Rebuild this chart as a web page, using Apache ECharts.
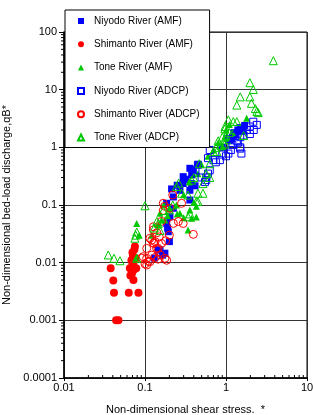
<!DOCTYPE html>
<html lang="en">
  <head>
    <meta charset="UTF-8" />
    <title>Bed-load discharge vs shear stress</title>
    <script src="https://cdn.jsdelivr.net/npm/echarts@6.0.0/dist/echarts.min.js"></script>
    <style>
      html, body { margin: 0; padding: 0; background: #fff; }
    </style>
  </head>

  <body>
    <div id="main" style="width: 313px; height: 415px"></div>

    <script type="text/javascript">
      // tick labels
      const xTickLabels = ["0.01", "0.1", "1", "10"];
      const yTickLabels = ["0.0001", "0.001", "0.01", "0.1", "1", "10", "100"];
      const minorSteps = [2, 3, 4, 5, 6, 7, 8, 9];

      // [shear stress, bed-load discharge]
      const niyodoAmf = [
        [0.13, 0.012], [0.146, 0.0166], [0.153, 0.0166], [0.165, 0.0135], [0.176, 0.0146],
        [0.185, 0.048], [0.19, 0.04], [0.194, 0.0344], [0.2, 0.0232], [0.203, 0.0625],
        [0.185, 0.107], [0.224, 0.0877], [0.213, 0.19], [0.224, 0.138], [0.27, 0.18],
        [0.296, 0.236], [0.296, 0.31], [0.358, 0.433], [0.395, 0.4], [0.358, 0.18],
        [0.358, 0.122], [0.377, 0.333], [0.415, 0.215], [0.377, 0.235], [0.32, 0.28],
        [0.25, 0.22], [0.45, 0.5], [0.9, 1.0], [1.1, 1.3], [1.2, 1.5], [1.3, 1.7],
        [1.4, 2.0], [1.6, 1.9], [1.5, 2.2], [1.7, 2.4], [1.25, 1.8]
      ];
      const shimantoAmf = [
        [0.0377, 0.008], [0.0406, 0.0049], [0.0414, 0.003], [0.044, 0.001], [0.047, 0.001],
        [0.063, 0.003], [0.083, 0.003], [0.065, 0.008], [0.066, 0.006], [0.068, 0.011],
        [0.069, 0.0065], [0.07, 0.0095], [0.071, 0.013], [0.072, 0.005], [0.073, 0.0075],
        [0.074, 0.017], [0.075, 0.019], [0.076, 0.012], [0.078, 0.008], [0.07, 0.015],
        [0.072, 0.01]
      ];
      const toneAmf = [
        [0.078, 0.012], [0.079, 0.048], [0.085, 0.03], [0.12, 0.03], [0.146, 0.045],
        [0.153, 0.072], [0.16, 0.055], [0.17, 0.1], [0.176, 0.055], [0.19, 0.065],
        [0.2, 0.085], [0.245, 0.1], [0.25, 0.07], [0.27, 0.072], [0.3, 0.06],
        [0.34, 0.037], [0.358, 0.082], [0.377, 0.059], [0.43, 0.062], [0.43, 0.095],
        [0.4, 0.11], [0.3, 0.15], [0.35, 0.25], [0.45, 0.35], [0.5, 0.5], [0.6, 0.7],
        [0.7, 0.9], [0.8, 1.2], [0.9, 1.0], [0.97, 1.5], [1.0, 2.0], [1.05, 1.3],
        [1.1, 2.5], [1.2, 1.8], [1.8, 3.2]
      ];
      const niyodoAdcp = [
        [0.5, 0.3], [0.55, 0.25], [0.57, 0.3], [0.57, 0.27], [0.6, 0.35], [0.6, 0.65],
        [0.63, 0.4], [0.63, 0.9], [0.7, 0.6], [0.75, 0.55], [0.84, 0.6], [0.9, 0.75],
        [1.0, 0.7], [1.07, 0.78], [1.15, 0.9], [1.2, 1.1], [1.36, 1.3], [1.5, 0.95],
        [1.55, 0.78], [1.5, 1.0], [1.4, 1.2], [1.5, 1.5], [1.65, 1.6], [1.8, 2.0],
        [1.97, 1.7], [1.97, 2.3], [2.17, 2.78], [2.4, 2.45], [2.2, 2.0], [1.3, 1.6],
        [1.1, 1.4], [0.42, 0.4], [0.45, 0.5]
      ];
      const shimantoAdcp = [
        [0.091, 0.012], [0.095, 0.0127], [0.1, 0.0095], [0.105, 0.0091], [0.105, 0.0119],
        [0.11, 0.0105], [0.115, 0.0104], [0.121, 0.0135], [0.127, 0.0218], [0.133, 0.0123],
        [0.139, 0.0177], [0.16, 0.0216], [0.185, 0.011], [0.176, 0.0119], [0.115, 0.0265],
        [0.133, 0.0232], [0.127, 0.037], [0.127, 0.042], [0.121, 0.0246], [0.129, 0.0216],
        [0.105, 0.0177], [0.145, 0.0177], [0.16, 0.052], [0.168, 0.0805], [0.168, 0.107],
        [0.175, 0.095], [0.203, 0.0877], [0.22, 0.149], [0.283, 0.107], [0.258, 0.0517],
        [0.296, 0.0478], [0.224, 0.048], [0.395, 0.031], [0.18, 0.024], [0.15, 0.028],
        [0.14, 0.033], [0.2, 0.03], [0.145, 0.0115], [0.155, 0.0135]
      ];
      const toneAdcp = [
        [0.0352, 0.0136], [0.0414, 0.0119], [0.0491, 0.0108], [0.079, 0.0119], [0.075, 0.0265],
        [0.077, 0.03], [0.079, 0.034], [0.1, 0.097], [0.14, 0.052], [0.146, 0.048],
        [0.153, 0.036], [0.13, 0.04], [0.168, 0.08], [0.2, 0.082], [0.22, 0.1],
        [0.245, 0.21], [0.26, 0.24], [0.283, 0.16], [0.34, 0.149], [0.34, 0.0625],
        [0.36, 0.07], [0.377, 0.27], [0.4, 0.3], [0.43, 0.115], [0.45, 0.16],
        [0.45, 0.115], [0.47, 0.52], [0.52, 0.16], [0.52, 0.235], [0.57, 0.35],
        [0.63, 0.3], [0.63, 0.52], [0.7, 0.84], [0.77, 0.85], [0.88, 1.08],
        [0.97, 1.14], [0.97, 2.1], [0.97, 2.3], [1.07, 3.0], [1.23, 2.8], [1.36, 2.8],
        [1.1, 1.8], [1.65, 1.6], [1.36, 5.4], [1.5, 7.5], [1.97, 7.5], [2.06, 5.8],
        [2.3, 4.7], [2.4, 4.2], [2.5, 4.0], [1.97, 13.2], [2.17, 10.1], [3.84, 31.8],
        [0.9, 1.5], [0.8, 1.3], [0.75, 1.0], [1.0, 1.6]
      ];

      const font = "Liberation Sans, Arial, sans-serif";
      const blue = "#0000ff";
      const red = "#ff0000";
      const green = "#00c800";

      // minor tick positions between the labelled decades
      function minorValues(labels) {
        let out = [];
        for (let i = 0; i < labels.length - 1; i++) {
          minorSteps.forEach((m) => out.push(Number(labels[i]) * m));
        }
        return out;
      }

      function filled(name, data, symbol, color, size) {
        return {
          name: name, type: "scatter", data: data, symbol: symbol, symbolSize: size,
          itemStyle: { color: color, opacity: 1 },
        };
      }
      function hollow(name, data, symbol, color, size) {
        return {
          name: name, type: "scatter", data: data, symbol: symbol, symbolSize: size,
          itemStyle: { color: "transparent", borderColor: color, borderWidth: 1, opacity: 1 },
        };
      }

      let myChart = echarts.init(document.getElementById("main"));

      let options = {
        animation: false,
        textStyle: { fontFamily: font },
        grid: {
          left: 64, right: 6, top: 32, bottom: 37,
          outerBoundsMode: "none",
          show: true, borderColor: "#000", borderWidth: 1,
        },
        legend: {
          orient: "vertical",
          left: 65, top: 10,
          padding: [6, 10, 5, 12],
          itemWidth: 6, itemHeight: 6,
          itemGap: 13.3,
          backgroundColor: "#fff",
          borderColor: "#000", borderWidth: 1,
          textStyle: { fontSize: 10, color: "#000", fontFamily: font, padding: [0, 0, 0, 5] },
        },
        xAxis: {
          type: "log", logBase: 10, min: 0.01, max: 10,
          name: "Non-dimensional shear stress.  *",
          nameLocation: "middle", nameGap: 26,
          nameTextStyle: { fontSize: 11, color: "#000" },
          axisLine: { lineStyle: { color: "#000", width: 1.5 } },
          axisTick: { length: 3, lineStyle: { color: "#000" } },
          axisLabel: {
            fontSize: 11, color: "#000", margin: 4,
            formatter: (v) => xTickLabels[Math.round(Math.log10(v)) + 2],
          },
          splitLine: { show: true, lineStyle: { color: "#333", width: 1 } },
        },
        yAxis: {
          type: "log", logBase: 10, min: 0.0001, max: 100,
          name: "Non-dimensional bed-load discharge,qB*",
          nameLocation: "middle", nameGap: 45,
          nameTextStyle: { fontSize: 11, color: "#000" },
          axisLine: { lineStyle: { color: "#000", width: 1.5 } },
          axisTick: { length: 5, lineStyle: { color: "#000" } },
          axisLabel: {
            fontSize: 11, color: "#000", margin: 7,
            formatter: (v) => yTickLabels[Math.round(Math.log10(v)) + 4],
          },
          splitLine: { show: true, lineStyle: { color: "#333", width: 1 } },
        },
        series: [
          filled("Niyodo River (AMF)", niyodoAmf, "rect", blue, 7),
          filled("Shimanto River (AMF)", shimantoAmf, "circle", red, 8),
          filled("Tone River (AMF)", toneAmf, "triangle", green, 7),
          hollow("Niyodo River (ADCP)", niyodoAdcp, "rect", blue, 7),
          hollow("Shimanto River (ADCP)", shimantoAdcp, "circle", red, 8),
          hollow("Tone River (ADCP)", toneAdcp, "triangle", green, 8),
          {
            // x minor ticks, drawn inward from the bottom axis
            type: "custom", silent: true, clip: false, z: 5,
            data: minorValues(xTickLabels).map((v) => [v, 0.0001]),
            renderItem: (params, api) => {
              let p = api.coord([api.value(0), api.value(1)]);
              return {
                type: "line",
                shape: { x1: p[0], y1: p[1], x2: p[0], y2: p[1] - 3 },
                style: { stroke: "#000", lineWidth: 1 },
              };
            },
          },
          {
            // y minor ticks, drawn outward from the left axis
            type: "custom", silent: true, clip: false, z: 5,
            data: minorValues(yTickLabels).map((v) => [0.01, v]),
            renderItem: (params, api) => {
              let p = api.coord([api.value(0), api.value(1)]);
              return {
                type: "line",
                shape: { x1: p[0], y1: p[1], x2: p[0] - 3, y2: p[1] },
                style: { stroke: "#000", lineWidth: 1 },
              };
            },
          },
        ],
      };

      myChart.setOption(options);
    </script>
  </body>
</html>
